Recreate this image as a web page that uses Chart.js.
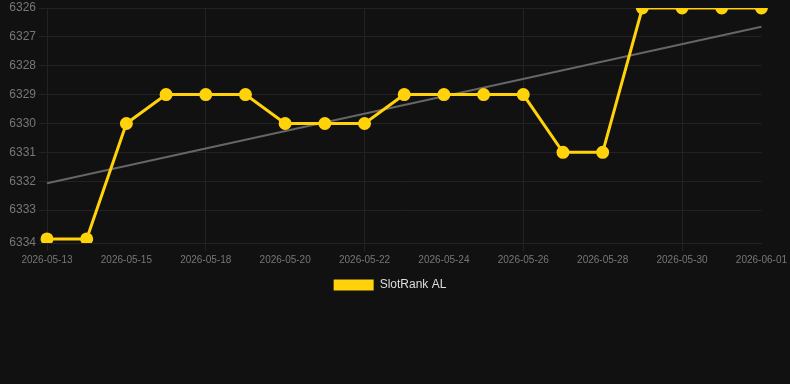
<!DOCTYPE html>
<html>
<head>
<meta charset="utf-8">
<script src="https://cdn.jsdelivr.net/npm/chart.js@4"></script>
<style>
  html, body { margin: 0; padding: 0; background: #111111; }
  #wrap { width: 790px; height: 301px; }
</style>
</head>
<body>
<div id="wrap"><canvas id="rankChart"></canvas></div>
<script>
// dates and rank values
const days = ['2026-05-13','2026-05-14','2026-05-15','2026-05-17','2026-05-18','2026-05-19','2026-05-20','2026-05-21','2026-05-22','2026-05-23','2026-05-24','2026-05-25','2026-05-26','2026-05-27','2026-05-28','2026-05-29','2026-05-30','2026-05-31','2026-06-01'];
const rank = [6334,6334,6330,6329,6329,6329,6330,6330,6330,6329,6329,6329,6329,6331,6331,6326,6326,6326,6326];
// trend line ends
const trend = [6332.07,null,null,null,null,null,null,null,null,null,null,null,null,null,null,null,null,null,6326.65];
const shownTicks = ['2026-05-13','2026-05-15','2026-05-18','2026-05-20','2026-05-22','2026-05-24','2026-05-26','2026-05-28','2026-05-30','2026-06-01'];
const yMin = 6326;
const yMax = 6334.14;

const ctx = document.getElementById('rankChart');
new Chart(ctx, {
  type: 'line',
  data: {
    labels: days,
    datasets: [{
      label: 'SlotRank AL',
      data: rank,
      borderColor: '#FFD20A',
      backgroundColor: '#FFD20A',
      borderWidth: 3,
      pointRadius: 5,
      pointHoverRadius: 5,
      tension: 0
    }, {
      label: 'trend',
      data: trend,
      spanGaps: true,
      borderColor: '#666666',
      borderWidth: 2,
      pointRadius: 0,
      tension: 0
    }]
  },
  options: {
    responsive: true,
    maintainAspectRatio: false,
    animation: false,
    layout: { padding: { right: 10 } },
    plugins: {
      legend: {
        position: 'bottom',
        labels: {
          color: '#dddddd',
          font: { family: 'Arial, Liberation Sans', size: 12 },
          boxWidth: 40,
          boxHeight: 11,
          generateLabels: (chart) => Chart.defaults.plugins.legend.labels.generateLabels(chart)
            .filter((l) => l.text !== 'trend')
            .map((l) => Object.assign(l, { lineWidth: 0 }))
        }
      },
      tooltip: { enabled: false }
    },
    scales: {
      x: {
        grid: {
          color: (c) => shownTicks.includes(days[c.index]) ? '#222222' : 'transparent'
        },
        border: { color: '#222222' },
        ticks: {
          color: '#777777',
          font: { family: 'Arial, Liberation Sans', size: 10 },
          autoSkip: false,
          maxRotation: 0,
          callback: function (v, i) {
            return shownTicks.includes(days[i]) ? days[i] : null;
          }
        }
      },
      y: {
        reverse: true,
        min: yMin,
        max: yMax,
        grid: { color: '#222222' },
        border: { display: false },
        afterFit: (scale) => { scale.width = 47; },
        // last integer tick sits right on top of the max one, drop it
        afterBuildTicks: (scale) => {
          scale.ticks = scale.ticks.filter((t) => t.value === yMax || yMax - t.value > 0.5);
        },
        ticks: {
          stepSize: 1,
          color: '#777777',
          font: { family: 'Arial, Liberation Sans', size: 12, lineHeight: 0.3 },
          callback: (v) => String(Math.round(v))
        }
      }
    }
  }
});
</script>
</body>
</html>
